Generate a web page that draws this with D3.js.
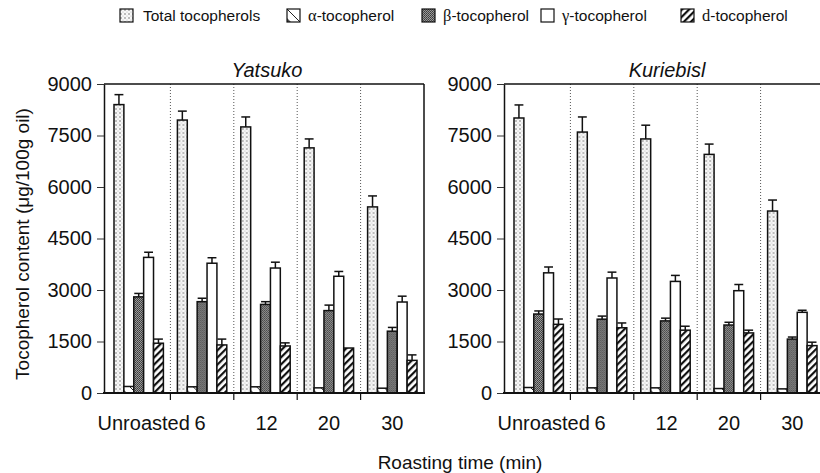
<!DOCTYPE html>
<html>
<head>
<meta charset="utf-8">
<script src="https://cdn.jsdelivr.net/npm/d3@7"></script>
<style>
body { margin: 0; background: #fff; }
svg { font-family: "Liberation Sans", Arial, sans-serif; }
</style>
</head>
<body>
<svg id="chart" width="820" height="473"></svg>
<script>
var groups = ["Unroasted", "6", "12", "20", "30"];
var seriesKeys = ["total", "alpha", "beta", "gamma", "delta"];
var yTicks = [0, 1500, 3000, 4500, 6000, 7500, 9000];

// Yatsuko
var yatTotal = [8400, 7950, 7750, 7140, 5420];
var yatTotalErr = [290, 260, 290, 260, 320];
var yatAlpha = [190, 180, 180, 150, 140];
var yatBeta = [2800, 2660, 2580, 2400, 1800];
var yatBetaErr = [100, 100, 80, 160, 110];
var yatGamma = [3950, 3780, 3640, 3400, 2650];
var yatGammaErr = [150, 160, 170, 140, 170];
var yatDelta = [1450, 1400, 1370, 1310, 950];
var yatDeltaErr = [120, 170, 90, 0, 160];

// Kuriebisl
var kurTotal = [8010, 7600, 7400, 6950, 5300];
var kurTotalErr = [380, 440, 400, 300, 320];
var kurAlpha = [160, 150, 150, 130, 120];
var kurBeta = [2300, 2150, 2100, 1980, 1570];
var kurBetaErr = [90, 90, 80, 80, 60];
var kurGamma = [3500, 3350, 3250, 2980, 2350];
var kurGammaErr = [170, 170, 175, 180, 60];
var kurDelta = [2000, 1900, 1830, 1750, 1380];
var kurDeltaErr = [155, 140, 115, 80, 100];

var legendItems = [
    { key: "total", greek: "", text: "Total tocopherols", x: 120 },
    { key: "alpha", greek: "\u03b1", text: "-tocopherol", x: 287 },
    { key: "beta", greek: "\u03b2", text: "-tocopherol", x: 422 },
    { key: "gamma", greek: "\u03b3", text: "-tocopherol", x: 541 },
    { key: "delta", greek: "d", text: "-tocopherol", x: 681 }
];

function buildRows(total, totalErr, alpha, beta, betaErr, gamma, gammaErr, delta, deltaErr) {
    return groups.map(function (g, i) {
        return {
            group: g,
            values: [
                { key: "total", v: total[i], e: totalErr[i] },
                { key: "alpha", v: alpha[i], e: 0 },
                { key: "beta", v: beta[i], e: betaErr[i] },
                { key: "gamma", v: gamma[i], e: gammaErr[i] },
                { key: "delta", v: delta[i], e: deltaErr[i] }
            ]
        };
    });
}

var panels = [
    { title: "Yatsuko", axisX: 104, x0: 107, x1: 424,
      rows: buildRows(yatTotal, yatTotalErr, yatAlpha, yatBeta, yatBetaErr, yatGamma, yatGammaErr, yatDelta, yatDeltaErr) },
    { title: "Kuriebisl", axisX: 504, x0: 507, x1: 824,
      rows: buildRows(kurTotal, kurTotalErr, kurAlpha, kurBeta, kurBetaErr, kurGamma, kurGammaErr, kurDelta, kurDeltaErr) }
];

var svg = d3.select("#chart");
var defs = svg.append("defs");

// patterns
var pTotal = defs.append("pattern").attr("id", "p-total").attr("patternUnits", "userSpaceOnUse")
    .attr("width", 4).attr("height", 4);
pTotal.append("rect").attr("width", 4).attr("height", 4).attr("fill", "#f7f7f7");
pTotal.append("circle").attr("cx", 1).attr("cy", 1).attr("r", 0.7).attr("fill", "#555");
pTotal.append("circle").attr("cx", 3).attr("cy", 3).attr("r", 0.5).attr("fill", "#aaa");

var pAlpha = defs.append("pattern").attr("id", "p-alpha").attr("patternUnits", "userSpaceOnUse")
    .attr("width", 14).attr("height", 14);
pAlpha.append("rect").attr("width", 14).attr("height", 14).attr("fill", "#fff");
pAlpha.append("path").attr("d", "M0,0L14,14").attr("stroke", "#222").attr("stroke-width", 1);
pAlpha.append("path").attr("d", "M0,9L5,14L0,14Z").attr("fill", "#555");

var pBeta = defs.append("pattern").attr("id", "p-beta").attr("patternUnits", "userSpaceOnUse")
    .attr("width", 2).attr("height", 2);
pBeta.append("rect").attr("width", 2).attr("height", 2).attr("fill", "#9a9a9a");
pBeta.append("rect").attr("width", 1).attr("height", 1).attr("fill", "#3a3a3a");
pBeta.append("rect").attr("x", 1).attr("y", 1).attr("width", 1).attr("height", 1).attr("fill", "#4a4a4a");

var pDelta = defs.append("pattern").attr("id", "p-delta").attr("patternUnits", "userSpaceOnUse")
    .attr("width", 5).attr("height", 5).attr("patternTransform", "rotate(45)");
pDelta.append("rect").attr("width", 5).attr("height", 5).attr("fill", "#fff");
pDelta.append("rect").attr("width", 2.2).attr("height", 5).attr("fill", "#111");

var fills = {
    total: "url(#p-total)",
    alpha: "url(#p-alpha)",
    beta: "url(#p-beta)",
    gamma: "#fff",
    delta: "url(#p-delta)"
};

var y = d3.scaleLinear().domain([0, 9000]).range([393, 84]);

panels.forEach(function (p) {
    var g = svg.append("g");

    var x0 = d3.scaleBand().domain(groups).range([p.x0, p.x1]).padding(0);
    var x1 = d3.scaleBand().domain(seriesKeys).range([7, x0.bandwidth() - 7]).padding(0);

    // dotted separators
    g.selectAll(".sep").data(groups.slice(1)).join("line")
        .attr("x1", function (d) { return x0(d); })
        .attr("x2", function (d) { return x0(d); })
        .attr("y1", y(9000)).attr("y2", y(0))
        .attr("stroke", "#555").attr("stroke-width", 1)
        .attr("stroke-dasharray", "1,2");

    // bars
    var grp = g.selectAll(".grp").data(p.rows).join("g")
        .attr("transform", function (d) { return "translate(" + x0(d.group) + ",0)"; });

    grp.selectAll("rect").data(function (d) { return d.values; }).join("rect")
        .attr("x", function (d) { return x1(d.key); })
        .attr("width", x1.bandwidth())
        .attr("y", function (d) { return y(d.v); })
        .attr("height", function (d) { return y(0) - y(d.v); })
        .attr("fill", function (d) { return fills[d.key]; })
        .attr("stroke", "#111").attr("stroke-width", 1.5);

    // error bars
    var eb = grp.selectAll(".err").data(function (d) { return d.values.filter(function (v) { return v.e > 0; }); })
        .join("g").attr("class", "err");
    eb.append("line")
        .attr("x1", function (d) { return x1(d.key) + x1.bandwidth() / 2; })
        .attr("x2", function (d) { return x1(d.key) + x1.bandwidth() / 2; })
        .attr("y1", function (d) { return y(d.v); })
        .attr("y2", function (d) { return y(d.v + d.e); })
        .attr("stroke", "#111").attr("stroke-width", 1.5);
    eb.append("line")
        .attr("x1", function (d) { return x1(d.key) + 0.5; })
        .attr("x2", function (d) { return x1(d.key) + x1.bandwidth() - 0.5; })
        .attr("y1", function (d) { return y(d.v + d.e); })
        .attr("y2", function (d) { return y(d.v + d.e); })
        .attr("stroke", "#111").attr("stroke-width", 1.5);

    // frame: top and right
    g.append("line").attr("x1", p.axisX).attr("x2", p.x1).attr("y1", y(9000)).attr("y2", y(9000))
        .attr("stroke", "#111").attr("stroke-width", 1.5);
    g.append("line").attr("x1", p.x1).attr("x2", p.x1).attr("y1", y(9000)).attr("y2", y(0))
        .attr("stroke", "#111").attr("stroke-width", 1.5);

    // y axis
    var yAxis = g.append("g").attr("transform", "translate(" + p.axisX + ",0)")
        .call(d3.axisLeft(y).tickValues(yTicks).tickFormat(d3.format("d"))
            .tickSize(7).tickSizeOuter(0).tickPadding(5));
    yAxis.select(".domain").attr("stroke", "#111").attr("stroke-width", 1.5);
    yAxis.selectAll(".tick line").attr("stroke", "#333").attr("stroke-width", 1);
    yAxis.selectAll("text").attr("font-size", 20).attr("fill", "#111")
        .attr("font-family", "'Liberation Sans', Arial, sans-serif");

    // baseline and x ticks
    g.append("line").attr("x1", p.axisX - 1).attr("x2", p.x1 + 1).attr("y1", y(0)).attr("y2", y(0))
        .attr("stroke", "#111").attr("stroke-width", 2.2);
    g.selectAll(".xtick").data(groups.slice(1)).join("line")
        .attr("x1", function (d) { return x0(d); })
        .attr("x2", function (d) { return x0(d); })
        .attr("y1", y(0)).attr("y2", y(0) + 7)
        .attr("stroke", "#111").attr("stroke-width", 1.2);

    var shift = [5, -2, 1, 0, 0];
    g.selectAll(".xlab").data(groups).join("text")
        .attr("x", function (d, i) { return x0(d) + x0.bandwidth() / 2 + shift[i]; })
        .attr("y", 430)
        .attr("text-anchor", "middle")
        .attr("font-size", 20).attr("fill", "#111")
        .text(function (d) { return d; });

    g.append("text")
        .attr("x", (p.axisX + p.x1) / 2 + 3)
        .attr("y", 77)
        .attr("text-anchor", "middle")
        .attr("font-size", 20).attr("font-style", "italic").attr("fill", "#111")
        .text(p.title);
});

// axis titles
svg.append("text")
    .attr("transform", "translate(29,244) rotate(-90)")
    .attr("text-anchor", "middle")
    .attr("font-size", 19).attr("fill", "#111")
    .text("Tocopherol content (\u03bcg/100g oil)");

svg.append("text")
    .attr("x", 460).attr("y", 469)
    .attr("text-anchor", "middle")
    .attr("font-size", 19).attr("fill", "#111")
    .text("Roasting time (min)");

// legend
var leg = svg.selectAll(".leg").data(legendItems).join("g")
    .attr("transform", function (d) { return "translate(" + d.x + ",9)"; });
leg.append("rect")
    .attr("width", 13).attr("height", 13)
    .attr("fill", function (d) { return fills[d.key]; })
    .attr("stroke", "#111").attr("stroke-width", 1.2);
var lt = leg.append("text")
    .attr("x", function (d) { return d.key === "total" ? 23 : 21; })
    .attr("y", 12)
    .attr("font-size", 15.5).attr("fill", "#111");
lt.append("tspan")
    .attr("font-family", "'Liberation Serif', 'Times New Roman', serif")
    .attr("font-size", 16.5)
    .text(function (d) { return d.greek; });
lt.append("tspan")
    .text(function (d) { return d.text; });
</script>
</body>
</html>
